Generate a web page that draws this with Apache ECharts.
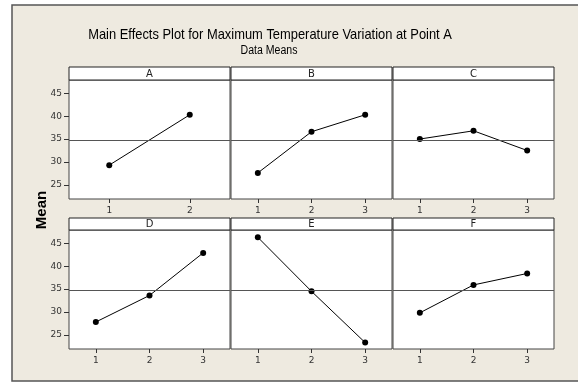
<!DOCTYPE html>
<html><head><meta charset="utf-8">
<script src="https://cdn.jsdelivr.net/npm/echarts@6/dist/echarts.min.js"></script>
<style>html,body{margin:0;padding:0;background:#fff}#c{width:578px;height:384px}</style>
</head><body><div id="c"></div>
<script>
// ---- data ----
const factors = ['A', 'B', 'C', 'D', 'E', 'F'];
const levelsA = [1, 2];
const levels3 = [1, 2, 3];
const meansA = [29.3, 40.3];
const meansB = [27.6, 36.6, 40.3];
const meansC = [35.0, 36.8, 32.5];
const meansD = [27.8, 33.6, 42.9];
const meansE = [46.3, 34.5, 23.3];
const meansF = [29.8, 35.9, 38.4];
const grandMean = 34.7;
const yTicks = [25, 30, 35, 40, 45];
const yMin = 21.9, yMax = 47.9;

const levelSets = [levelsA, levels3, levels3, levels3, levels3, levels3];
const meanSets = [meansA, meansB, meansC, meansD, meansE, meansF];

// ---- layout ----
const colX = [69, 231, 393];
const colW = 161;
const rowY = [80, 230];
const rowH = 119;
const stripY = [67, 218];
const stripH = [13, 12];
const tickFont = 'DejaVu Sans';

const grids = [], xAxes = [], yAxes = [], series = [], graphics = [];

graphics.push({
  type: 'rect', z: -10, silent: true,
  shape: { x: 12, y: 5, width: 580, height: 376 },
  style: { fill: '#EEEAE0', stroke: '#555', lineWidth: 1.5 }
});
graphics.push({
  type: 'text', x: 270, y: 35, scaleX: 0.86, z: 10,
  style: { text: 'Main Effects Plot for Maximum Temperature Variation at Point A',
    font: '15px "Liberation Sans"', fill: '#000', textAlign: 'center', textVerticalAlign: 'middle' }
});
graphics.push({
  type: 'text', x: 269, y: 51, scaleX: 0.88, z: 10,
  style: { text: 'Data Means', font: '12px "Liberation Sans"', fill: '#000',
    textAlign: 'center', textVerticalAlign: 'middle' }
});
graphics.push({
  type: 'text', x: 42, y: 210, rotation: Math.PI / 2, z: 10,
  style: { text: 'Mean', font: 'bold 15px "Liberation Sans"', fill: '#000',
    textAlign: 'center', textVerticalAlign: 'middle' }
});

factors.forEach((f, i) => {
  const r = Math.floor(i / 3), c = i % 3;
  const lv = levelSets[i];
  grids.push({
    left: colX[c], top: rowY[r], width: colW, height: rowH,
    show: true, backgroundColor: '#fff', borderColor: '#444', borderWidth: 1
  });
  xAxes.push({
    type: 'value', gridIndex: i, min: 0.5, max: lv.length + 0.5,
    axisLine: { show: false }, splitLine: { show: false },
    axisTick: { show: true, length: 4, customValues: lv, lineStyle: { color: '#333' } },
    axisLabel: { customValues: lv, margin: 7, fontSize: 9, fontFamily: tickFont, color: '#333' }
  });
  yAxes.push({
    type: 'value', gridIndex: i, min: yMin, max: yMax,
    axisLine: { show: false }, splitLine: { show: false },
    axisTick: { show: c === 0, length: 5, customValues: yTicks, lineStyle: { color: '#333' } },
    axisLabel: { show: c === 0, customValues: yTicks, margin: 7, fontSize: 9, fontFamily: tickFont, color: '#333' }
  });
  series.push({
    type: 'line', xAxisIndex: i, yAxisIndex: i,
    data: lv.map((l, k) => [l, meanSets[i][k]]),
    symbol: 'circle', symbolSize: 6,
    itemStyle: { color: '#000' }, lineStyle: { color: '#000', width: 1 },
    markLine: {
      silent: true, symbol: ['none', 'none'], label: { show: false },
      lineStyle: { color: '#555', width: 1, type: 'solid' },
      data: [{ yAxis: grandMean }]
    }
  });
  graphics.push({
    type: 'rect', z: 10, silent: true,
    shape: { x: colX[c], y: stripY[r], width: colW, height: stripH[r] },
    style: { fill: '#fff', stroke: '#222', lineWidth: 1 }
  });
  graphics.push({
    type: 'text', z: 11, x: colX[c] + colW / 2, y: stripY[r] + stripH[r] / 2 + 0.5,
    style: { text: f, font: '10px "DejaVu Sans"', fill: '#222', textAlign: 'center', textVerticalAlign: 'middle' }
  });
});

const chart = echarts.init(document.getElementById('c'), null, { renderer: 'canvas' });
chart.setOption({
  animation: false,
  backgroundColor: '#fff',
  grid: grids, xAxis: xAxes, yAxis: yAxes, series: series,
  graphic: { elements: graphics }
});
</script></body></html>
